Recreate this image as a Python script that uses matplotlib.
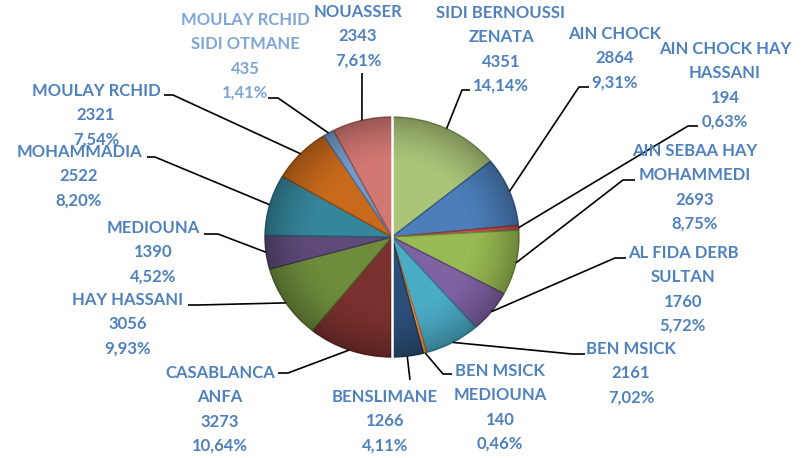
import numpy as np
import matplotlib
matplotlib.use("Agg")
import matplotlib.pyplot as plt
from matplotlib.patches import Circle
from matplotlib.colors import to_rgb

# ---------------- data ----------------
names = ["SIDI BERNOUSSI\nZENATA", "AIN CHOCK", "AIN CHOCK HAY\nHASSANI",
         "AIN SEBAA HAY\nMOHAMMEDI", "AL FIDA DERB\nSULTAN", "BEN MSICK",
         "BEN MSICK\nMEDIOUNA", "BENSLIMANE", "CASABLANCA\nANFA", "HAY HASSANI",
         "MEDIOUNA", "MOHAMMADIA", "MOULAY RCHID", "MOULAY RCHID\nSIDI OTMANE",
         "NOUASSER"]
values = [4351, 2864, 194, 2693, 1760, 2161, 140, 1266, 3273, 3056,
          1390, 2522, 2321, 435, 2343]
colors = ["#AAC478", "#4B7EBA", "#C0504D", "#98BA52", "#7E62A2", "#4BACC6",
          "#F79646", "#2B4E77", "#7A302D", "#6E8C3C", "#5E4B7A", "#35859B",
          "#C8691C", "#729ACA", "#D37773"]

# ---------------- layout (pixels, from top-left) ----------------
W, H = 803, 458
CX, CY, RX, RY = 392, 237, 127, 120
# label block: centre x, centre y of first line
label_pos = [(501, 13), (615, 34), (725, 49), (695, 151), (683, 253),
             (631, 349), (500, 371), (385, 397), (220, 373), (128, 300),
             (153, 228), (79, 152), (96, 91), (245, 20), (358, 12)]
# leader line: elbow point, end point near text
leader = [((462, 90), (470, 90)), ((579, 87), (589, 87)),
          ((688, 126), (698, 126)), ((623, 180), (635, 180)),
          ((615, 258), (626, 258)), ((572, 354), (585, 354)),
          ((443, 374), (452, 374)), ((410, 380), (410, 380)),
          ((288, 373), (278, 373)), ((198, 305), (188, 305)),
          ((218, 234), (204, 234)), ((155, 157), (147, 157)),
          ((173, 95), (164, 95)), ((278, 98), (268, 98)),
          ((362, 73), (362, 73))]
LINE_STEP = 24.3
TEXT_COLOR = "#4F81BD"


def P(x, y):
    return (x - CX) / RX, (CY - y) / RY


fig = plt.figure(figsize=(W / 100, H / 100), dpi=100)
fig.patch.set_facecolor("white")
ax = fig.add_axes([0, 0, 1, 1])

wedges, _ = ax.pie(values, colors=colors, startangle=90, counterclock=False,
                   radius=1, center=(0, 0),
                   wedgeprops=dict(linewidth=1.0))
for w, c in zip(wedges, colors):
    w.set_edgecolor(tuple(0.72 * np.array(to_rgb(c))))

# subtle radial shading (darker rim) like the original 3D-ish style
n = 400
g = np.linspace(-1, 1, n)
gx, gy = np.meshgrid(g, g)
r = np.sqrt(gx ** 2 + gy ** 2)
shade = np.zeros((n, n, 4))
shade[..., 3] = 0.28 * np.clip((r - 0.6) / 0.4, 0, 1) ** 1.6
im = ax.imshow(shade, extent=(-1, 1, -1, 1), origin="lower", aspect="auto",
               zorder=2, interpolation="bilinear")
im.set_clip_path(Circle((0, 0), 1, transform=ax.transData))

# white split between the two halves of the pie
ax.plot([0, 0], [-1.02, 1.02], color="white", lw=1.8, zorder=2.5)

ax.set_aspect("auto")
ax.set_xlim(P(0, 0)[0], P(W, 0)[0])
ax.set_ylim(P(0, H)[1], P(0, 0)[1])
ax.axis("off")

total = sum(values)
for i, (name, v) in enumerate(zip(names, values)):
    w = wedges[i]
    mid = np.deg2rad((w.theta1 + w.theta2) / 2)
    edge = (np.cos(mid), np.sin(mid))
    (ex, ey), (tx, ty) = leader[i]
    e1 = P(ex, ey)
    e2 = P(tx, ty)
    ax.plot([edge[0], e1[0], e2[0]], [edge[1], e1[1], e2[1]],
            color="black", lw=1.2, zorder=3, solid_capstyle="butt")

    pct = f"{100 * v / total:.2f}".replace(".", ",") + "%"
    lines = name.split("\n") + [str(v), pct]
    lx, ly = label_pos[i]
    col = "#7EA6D8" if i == 13 else TEXT_COLOR
    for k, line in enumerate(lines):
        ax.text(*P(lx, ly + k * LINE_STEP), line, ha="center", va="center",
                color=col, fontsize=12, fontweight="bold", family="Lato",
                zorder=4)

fig.savefig("out.png", dpi=100, facecolor="white")
